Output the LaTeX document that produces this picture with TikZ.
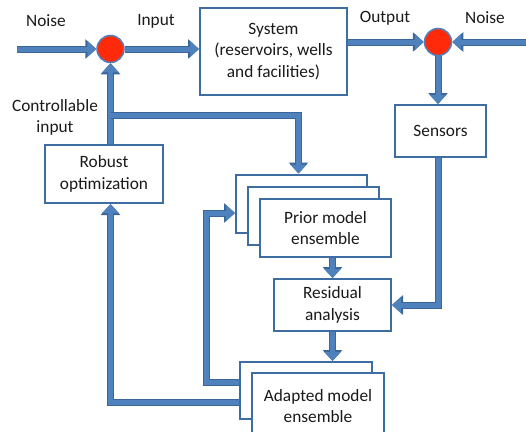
\documentclass[tikz,border=0pt]{standalone}
\usepackage{fontspec}
\setmainfont{Carlito}
\usetikzlibrary{arrows.meta,calc}
\definecolor{pipeblue}{HTML}{4F81BD}
\definecolor{pipeedge}{HTML}{3A6699}
\definecolor{boxedge}{HTML}{3D6DA3}
\definecolor{sumred}{HTML}{FF2A0A}
\definecolor{inktext}{HTML}{1A1A1A}

\tikzset{
  blockbox/.style={draw=boxedge,line width=2pt,fill=white,align=center,inner sep=2pt,text=inktext},
  sumnode/.style={circle,fill=sumred,draw=pipeblue,line width=1.5pt,minimum size=27pt,inner sep=0pt},
  pipe/.style={draw=pipeblue,line width=5pt,-{Triangle[width=16pt,length=9pt]},
    preaction={draw=pipeedge,line width=7pt,-{Triangle[width=19pt,length=11pt]}}},
  lbl/.style={align=center,inner sep=0pt,text=inktext}
}

\begin{document}
\begin{tikzpicture}[x=1pt,y=-1pt,font=\fontsize{17.3}{21.5}\selectfont]
\clip (0,0) rectangle (526,431);
\node[sumnode] (sumin) at (110.5,49) {};
\node[sumnode] (sumout) at (438,42) {};
\node[blockbox,minimum width=147pt,minimum height=87pt] (sys) at (273.5,51.5) {System\\(reservoirs, wells\\and facilities)};
\node[blockbox,minimum width=91pt,minimum height=52pt] (sens) at (440.5,131) {Sensors};
\node[blockbox,minimum width=118pt,minimum height=58pt] (robust) at (104,174) {Robust\\optimization};
\node[blockbox,minimum width=131pt,minimum height=58pt] (prior1) at (301.5,203.5) {};
\node[blockbox,minimum width=131pt,minimum height=58pt] (prior2) at (313.5,216) {};
\node[blockbox,minimum width=131pt,minimum height=58pt] (prior3) at (325.5,228) {Prior model\\ensemble};
\node[blockbox,minimum width=117pt,minimum height=52pt] (resid) at (332.5,305) {Residual\\analysis};
\node[blockbox,minimum width=132pt,minimum height=57pt] (adapt1) at (306,390.5) {};
\node[blockbox,minimum width=132pt,minimum height=66pt] (adapt2) at (318,406) {Adapted model\\ensemble};
\node[lbl] (noisel) at (46,21) {Noise};
\node[lbl] (inlbl) at (156,21) {Input};
\node[lbl] (outlbl) at (385,18) {Output};
\node[lbl] (noiser) at (485,18) {Noise};
\node[lbl] (ctrllbl) at (55,117.5) {Controllable\\input};
\coordinate (noisestart) at (17,49);
\coordinate (noiseend) at (530,42);
\coordinate (tap) at (110.5,115);
\draw[pipe] (noisestart) -- (sumin.west);
\draw[pipe] (sumin.east) -- (sumin.east -| sys.west);
\draw[pipe] (sumout -| sys.east) -- (sumout.west);
\draw[pipe] (noiseend) -- (sumout.east);
\draw[pipe] (sumout.south) -- (sumout.south |- sens.north);
\draw[pipe] (sens.south -| sumout) |- (resid.east);
\draw[pipe] (robust.north -| sumin) -- (sumin.south);
\draw[pipe] (tap) -| ([xshift=-3pt]prior1.north);
\draw[pipe] (resid.north |- prior3.south) -- (resid.north);
\draw[pipe] (resid.south) -- (resid.south |- adapt1.north);
\draw[pipe] ([yshift=-11.5pt]adapt1.west) -| (robust.south -| sumin);
\draw[pipe] ([yshift=8.5pt]adapt1.west) -- ++(-33,0) |- ([yshift=-9.5pt]prior1.west);
\end{tikzpicture}
\end{document}
